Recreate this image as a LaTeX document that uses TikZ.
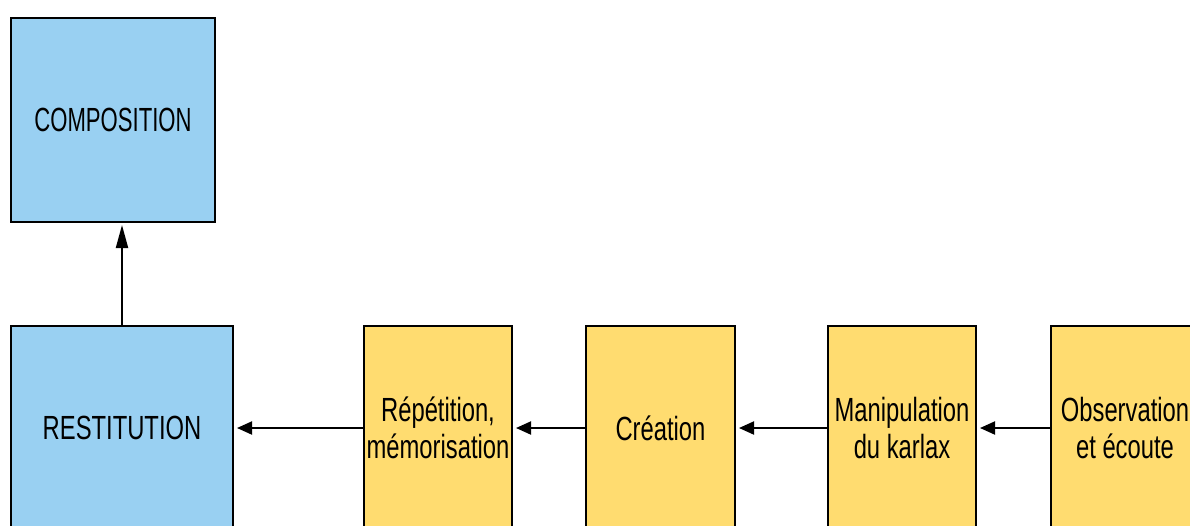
\documentclass[tikz,border=0pt]{standalone}
\usepackage{fontspec}
\newfontfamily\lab[FakeStretch=0.71]{Liberation Sans}
\newfontfamily\labnarrow[FakeStretch=0.66]{Liberation Sans}
\usetikzlibrary{arrows.meta}
\definecolor{bluefill}{RGB}{153,208,242}
\definecolor{yellowfill}{RGB}{255,220,112}
\tikzset{
  box/.style={draw=black, line width=2pt, inner sep=0pt, minimum height=204pt, align=center,
    font=\lab\fontsize{33.5}{37}\selectfont, text=black},
  bluebox/.style={box, fill=bluefill},
  yellowbox/.style={box, fill=yellowfill},
  harrow/.style={line width=2pt, -{Triangle[length=15pt,width=13pt]}, shorten >=3pt},
  varrow/.style={line width=2pt, -{Triangle[length=23pt,width=12pt]}, shorten >=2pt},
}
\begin{document}
\begin{tikzpicture}[x=1pt,y=-1pt]
\useasboundingbox[fill=white] (0,0) rectangle (1190,525);
\node[bluebox, minimum width=204pt, font=\labnarrow\fontsize{33.5}{37}\selectfont] (comp) at (113,120) {COMPOSITION};
\node[bluebox, minimum width=222pt] (rest) at (122,428) {RESTITUTION};
\node[yellowbox, minimum width=148pt] (rep) at (438,428) {Répétition,\\mémorisation};
\node[yellowbox, minimum width=149pt] (crea) at (660.5,428) {Création};
\node[yellowbox, minimum width=148pt] (manip) at (902,428) {Manipulation\\du karlax};
\node[yellowbox, minimum width=148pt] (obs) at (1125,428) {Observation\\et écoute};
\draw[harrow] (rep.west) -- (rest.east);
\draw[harrow] (crea.west) -- (rep.east);
\draw[harrow] (manip.west) -- (crea.east);
\draw[harrow] (obs.west) -- (manip.east);
\draw[varrow] (rest.north) -- (rest.north |- comp.south);
\end{tikzpicture}
\end{document}
